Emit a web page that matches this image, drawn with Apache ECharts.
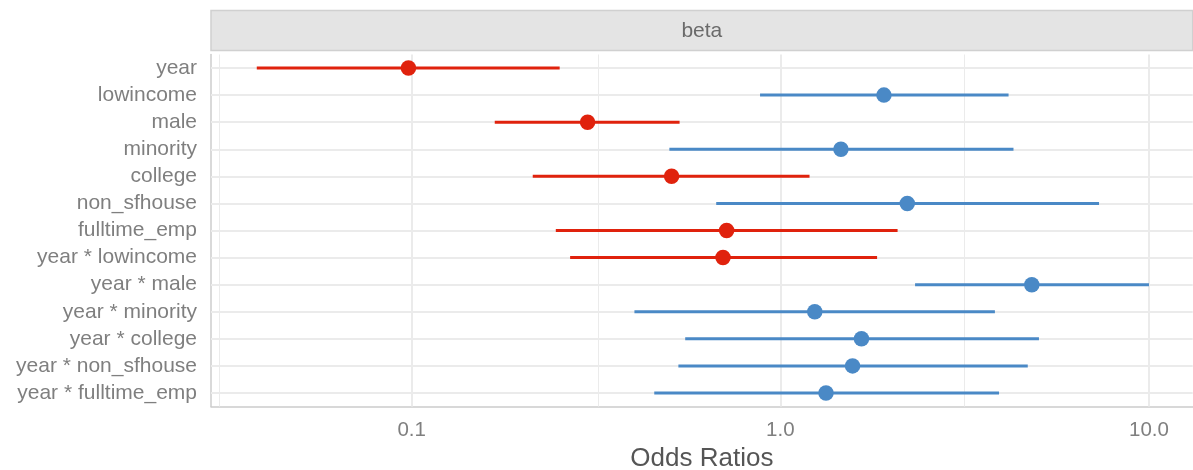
<!DOCTYPE html>
<html>
<head>
<meta charset="utf-8">
<script src="https://cdn.jsdelivr.net/npm/echarts@6/dist/echarts.min.js"></script>
<style>
  html, body { margin: 0; padding: 0; background: #ffffff; }
  #chart { width: 1193px; height: 470px; }
</style>
</head>
<body>
<div id="chart"></div>
<script>
// Model terms, top to bottom
const terms = [
  'year', 'lowincome', 'male', 'minority', 'college', 'non_sfhouse',
  'fulltime_emp', 'year * lowincome', 'year * male', 'year * minority',
  'year * college', 'year * non_sfhouse', 'year * fulltime_emp'
];
// Odds ratio estimates and 95% confidence bounds
const oddsRatio = [0.098, 1.91, 0.300, 1.46, 0.507, 2.21, 0.715, 0.699, 4.81, 1.24, 1.66, 1.57, 1.33];
const ciLower   = [0.038, 0.881, 0.168, 0.500, 0.213, 0.670, 0.246, 0.269, 2.32, 0.402, 0.552, 0.529, 0.455];
const ciUpper   = [0.252, 4.16, 0.533, 4.29, 1.20, 7.32, 2.08, 1.83, 10.0, 3.82, 5.03, 4.69, 3.92];
// Log-axis gridlines: labelled decades and half-decade minors
const majorBreaks = [0.1, 1, 10];
const minorBreaks = [Math.pow(10, -1.5), Math.pow(10, -0.5), Math.pow(10, 0.5)];
const facetLabel = 'beta';

const RED = '#e0220d';
const BLUE = '#4a89c6';
const GRID_COLOR = '#ebebeb';
const FONT = '"Liberation Sans", Arial, Helvetica, sans-serif';

const colorFor = v => (v < 1 ? RED : BLUE);

const chart = echarts.init(document.getElementById('chart'));

const gridLeft = 211;
const gridRight = 1192.7;

chart.setOption({
  animation: false,
  textStyle: { fontFamily: FONT },
  grid: {
    left: gridLeft, right: 1193 - gridRight, top: 54.5, height: 352,
    containLabel: false, outerBoundsMode: 'none'
  },
  graphic: [
    {
      type: 'rect',
      shape: { x: gridLeft, y: 10.5, width: gridRight - gridLeft, height: 40 },
      style: { fill: '#e4e4e4', stroke: '#d0d0d0', lineWidth: 1.5 },
      silent: true
    },
    {
      type: 'text',
      x: (gridLeft + gridRight) / 2,
      y: 31,
      style: {
        text: facetLabel, textAlign: 'center', textVerticalAlign: 'middle',
        fontSize: 21, fontFamily: FONT, fill: '#6a6a6a'
      },
      silent: true
    }
  ],
  xAxis: {
    type: 'log',
    logBase: 10,
    min: 0.02855,
    max: 13.14,
    axisLine: { show: true, lineStyle: { color: '#cccccc', width: 1.5 } },
    axisTick: { show: false },
    splitLine: { show: false },
    axisLabel: {
      fontSize: 20.5,
      color: '#7f7f7f',
      margin: 13,
      formatter: v => {
        const l = Math.log10(v);
        return Math.abs(l - Math.round(l)) < 1e-6 ? Number(v).toFixed(1) : '';
      }
    },
    name: 'Odds Ratios',
    nameLocation: 'middle',
    nameGap: 37,
    nameTextStyle: { fontSize: 26, color: '#555555', fontFamily: FONT }
  },
  yAxis: {
    type: 'category',
    data: terms,
    inverse: true,
    boundaryGap: true,
    axisLine: { show: true, lineStyle: { color: '#cccccc', width: 1.5 } },
    axisTick: { show: false },
    splitLine: { show: false },
    axisLabel: { interval: 0, fontSize: 21, color: '#7f7f7f', margin: 14 }
  },
  series: [
    {
      // confidence intervals
      type: 'custom',
      z: 3,
      data: terms.map((t, i) => [ciLower[i], ciUpper[i], i, oddsRatio[i]]),
      encode: { x: [0, 1], y: 2 },
      renderItem: (params, api) => {
        const a = api.coord([api.value(0), api.value(2)]);
        const b = api.coord([api.value(1), api.value(2)]);
        return {
          type: 'line',
          shape: { x1: a[0], y1: a[1], x2: b[0], y2: b[1] },
          style: { stroke: colorFor(api.value(3)), lineWidth: 3 }
        };
      }
    },
    {
      // point estimates, plus panel gridlines underneath
      type: 'scatter',
      z: 4,
      symbol: 'circle',
      symbolSize: 15.5,
      itemStyle: { opacity: 1 },
      data: terms.map((t, i) => ({
        value: [oddsRatio[i], t],
        itemStyle: { color: colorFor(oddsRatio[i]), opacity: 1 }
      })),
      markLine: {
        silent: true,
        z: 1,
        symbol: ['none', 'none'],
        label: { show: false },
        lineStyle: { color: GRID_COLOR, type: 'solid', width: 2 },
        data: [
          ...majorBreaks.map(v => ({ xAxis: v })),
          ...minorBreaks.map(v => ({ xAxis: v, lineStyle: { color: GRID_COLOR, type: 'solid', width: 1 } })),
          ...terms.map(t => ({ yAxis: t }))
        ]
      }
    }
  ]
});
</script>
</body>
</html>
